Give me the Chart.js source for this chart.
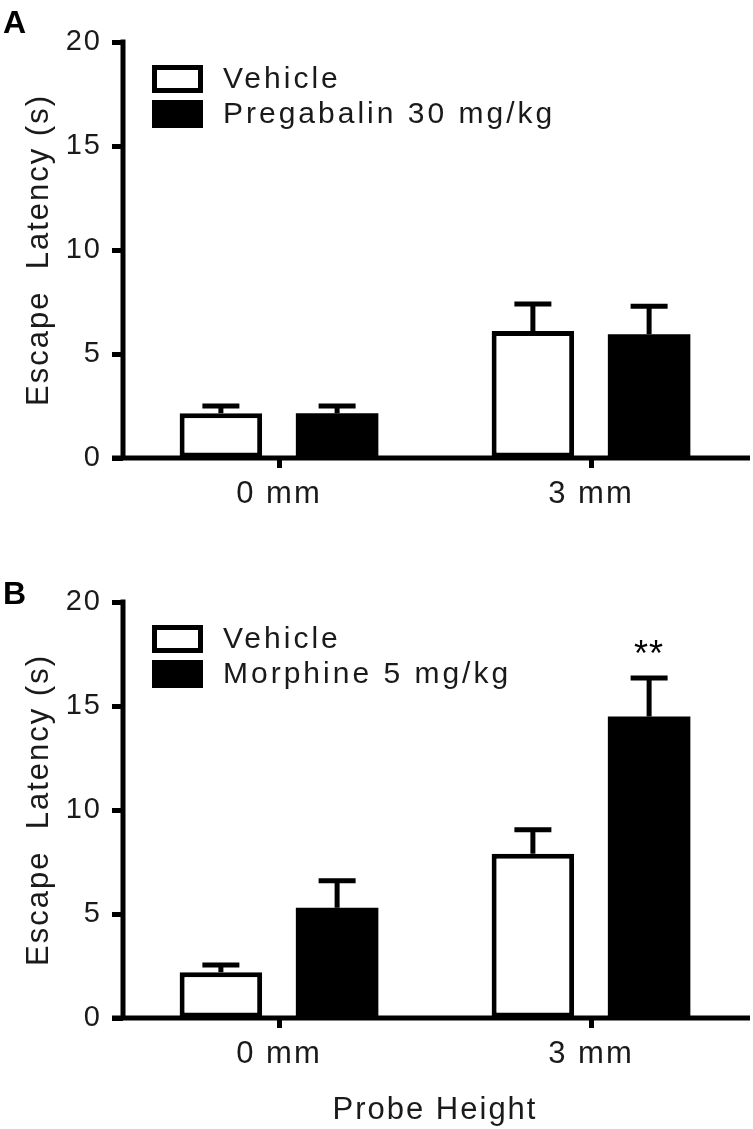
<!DOCTYPE html>
<html>
<head>
<meta charset="utf-8">
<script src="https://cdn.jsdelivr.net/npm/chart.js@4.4.1/dist/chart.umd.min.js"></script>
<style>
html, body { margin: 0; padding: 0; background: #fff; }
#wrap { position: relative; width: 753px; height: 1129px; }
canvas { position: absolute; left: 0; }
</style>
</head>
<body>
<div id="wrap">
<canvas id="panelA" width="753" height="560" style="top:0"></canvas>
<canvas id="panelB" width="753" height="569" style="top:560px"></canvas>
</div>
<script>
// values (mean and SEM, seconds)
const categories = ["0 mm", "3 mm"];
const yTicks = [0, 5, 10, 15, 20];

const vehicleA = [2.15, 6.1];
const vehicleErrA = [0.35, 1.3];
const pregabalin = [2.15, 5.95];
const pregabalinErr = [0.35, 1.35];

const vehicleB = [2.2, 7.9];
const vehicleErrB = [0.35, 1.15];
const morphine = [5.3, 14.5];
const morphineErr = [1.3, 1.85];
const morphineSig = ["", "**"];

Chart.defaults.font.family = "'Liberation Sans', Arial, sans-serif";
Chart.defaults.color = "#1a1a1a";

const ink = {
	id: "ink",
	beforeDraw(chart) {
		chart.ctx.letterSpacing = "2px";
	},
	afterDatasetsDraw(chart, args, opts) {
		const ctx = chart.ctx;
		const y = chart.scales.y;
		const area = chart.chartArea;
		ctx.save();
		ctx.strokeStyle = "#000";
		ctx.lineWidth = 5;

		// error bars (upper only) and significance marks
		chart.data.datasets.forEach((ds, di) => {
			chart.getDatasetMeta(di).data.forEach((bar, i) => {
				const top = y.getPixelForValue(ds.data[i] + ds.err[i]);
				ctx.beginPath();
				ctx.moveTo(bar.x, bar.y);
				ctx.lineTo(bar.x, top);
				ctx.moveTo(bar.x - 18.5, top);
				ctx.lineTo(bar.x + 18.5, top);
				ctx.stroke();
				if (ds.sig && ds.sig[i]) {
					ctx.fillStyle = "#000";
					ctx.font = "36px 'Liberation Sans', Arial, sans-serif";
					ctx.letterSpacing = "1px";
					ctx.textAlign = "center";
					ctx.textBaseline = "alphabetic";
					ctx.fillText(ds.sig[i], bar.x, top - 12);
				}
			});
		});

		// axis lines
		ctx.beginPath();
		ctx.moveTo(area.left, area.top - 2.5);
		ctx.lineTo(area.left, area.bottom);
		ctx.moveTo(area.left - 11, area.bottom);
		ctx.lineTo(chart.width - 3, area.bottom);
		ctx.stroke();

		// legend
		ctx.font = "30px 'Liberation Sans', Arial, sans-serif";
		ctx.letterSpacing = "3px";
		ctx.textAlign = "left";
		ctx.textBaseline = "middle";
		chart.data.datasets.forEach((ds, di) => {
			const top = 65 + di * 35;
			ctx.fillStyle = ds.backgroundColor;
			ctx.fillRect(152, top, 51, 28);
			ctx.strokeRect(154.5, top + 2.5, 46, 23);
			ctx.fillStyle = "#1a1a1a";
			ctx.fillText(ds.label, 223, top + 15);
		});

		// panel letter
		ctx.font = "bold 32px 'Liberation Sans', Arial, sans-serif";
		ctx.letterSpacing = "0px";
		ctx.textBaseline = "alphabetic";
		ctx.fillStyle = "#000";
		ctx.fillText(opts.letter, 3, opts.letterY);
		ctx.restore();
	},
};

function panel(id, letter, letterY, sets, xTitle, xHeight) {
	return new Chart(document.getElementById(id), {
		type: "bar",
		data: {
			labels: categories,
			datasets: sets.map((s) => ({
				label: s.label,
				data: s.data,
				err: s.err,
				sig: s.sig,
				backgroundColor: s.fill,
				borderColor: "#000",
				// solid bars need no outline (avoids a grey anti-aliased rim)
				borderWidth: s.fill === "#000" ? 0 : 5,
				borderSkipped: false,
				categoryPercentage: 0.745,
				barPercentage: 0.71,
			})),
		},
		options: {
			responsive: false,
			animation: false,
			layout: { padding: { top: 42, right: 6, left: 0, bottom: 0 } },
			plugins: {
				legend: { display: false },
				tooltip: { enabled: false },
				ink: { letter: letter, letterY: letterY },
			},
			scales: {
				x: {
					offset: true,
					grid: {
						drawOnChartArea: false,
						offset: false,
						tickLength: 10,
						tickWidth: 5,
						tickColor: "#000",
					},
					border: { display: false },
					ticks: { font: { size: 31 }, padding: 8, maxRotation: 0 },
					title: {
						display: !!xTitle,
						text: xTitle,
						font: { size: 31 },
						padding: { top: 11, bottom: 0 },
					},
					afterFit: (s) => {
						s.height = xHeight;
					},
				},
				y: {
					min: 0,
					max: 20,
					afterBuildTicks: (s) => {
						s.ticks = yTicks.map((v) => ({ value: v }));
					},
					grid: {
						drawOnChartArea: false,
						tickLength: 11,
						tickWidth: 5,
						tickColor: "#000",
					},
					border: { display: false },
					ticks: { font: { size: 29 }, padding: 10 },
					title: {
						display: true,
						text: "Escape  Latency (s)",
						font: { size: 31 },
						padding: { top: 21, bottom: 0 },
					},
					afterFit: (s) => {
						s.width = 123;
					},
				},
			},
		},
		plugins: [ink],
	});
}

panel("panelA", "A", 33, [
	{ label: "Vehicle", data: vehicleA, err: vehicleErrA, fill: "#fff" },
	{ label: "Pregabalin 30 mg/kg", data: pregabalin, err: pregabalinErr, fill: "#000" },
], "", 102);

panel("panelB", "B", 44, [
	{ label: "Vehicle", data: vehicleB, err: vehicleErrB, fill: "#fff" },
	{ label: "Morphine 5 mg/kg", data: morphine, err: morphineErr, sig: morphineSig, fill: "#000" },
], "Probe Height", 111);
</script>
</body>
</html>
